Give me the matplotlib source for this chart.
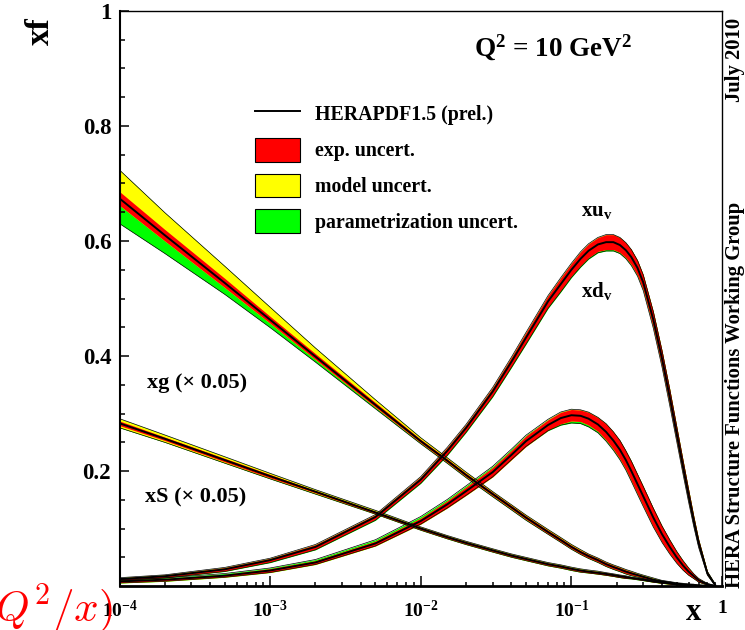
import numpy as np
import matplotlib.pyplot as plt
from matplotlib.lines import Line2D
from matplotlib.patches import Patch

plt.rcParams['font.family'] = ['Liberation Serif', 'DejaVu Serif']
plt.rcParams['font.weight'] = 'bold'
plt.rcParams['mathtext.fontset'] = 'custom'
plt.rcParams['mathtext.rm'] = 'Liberation Serif:bold'
plt.rcParams['mathtext.it'] = 'Liberation Serif:italic:bold'
plt.rcParams['mathtext.bf'] = 'Liberation Serif:bold'

# x points where the PDFs were read
x = [1e-4, 2e-4, 5e-4, 1e-3, 2e-3, 5e-3, 0.01, 0.015, 0.02, 0.03, 0.04, 0.05, 0.07,
     0.085, 0.1, 0.115, 0.13, 0.15, 0.17, 0.19, 0.21, 0.23, 0.25, 0.275, 0.3,
     0.35, 0.4, 0.45, 0.5, 0.55, 0.6, 0.65, 0.7, 0.8, 0.9]

# central values
xuv = [0.012, 0.017, 0.029, 0.045, 0.068, 0.120, 0.185, 0.235, 0.275, 0.338, 0.390, 0.432, 0.495,
       0.525, 0.550, 0.569, 0.583, 0.594, 0.598, 0.598, 0.593, 0.584, 0.572, 0.553, 0.528,
       0.463, 0.395, 0.328, 0.265, 0.208, 0.157, 0.112, 0.074, 0.022, 0.002]
xdv = [0.008, 0.011, 0.018, 0.027, 0.041, 0.074, 0.113, 0.142, 0.165, 0.198, 0.228, 0.252, 0.280,
       0.292, 0.297, 0.296, 0.291, 0.281, 0.268, 0.253, 0.237, 0.219, 0.200, 0.177, 0.156,
       0.119, 0.090, 0.068, 0.050, 0.036, 0.025, 0.017, 0.010, 0.003, 0.0]
xg = [0.674, 0.610, 0.527, 0.463, 0.399, 0.315, 0.252, 0.218, 0.193, 0.160, 0.137, 0.119, 0.094,
      0.080, 0.068, 0.059, 0.052, 0.045, 0.038, 0.033, 0.029, 0.025, 0.022, 0.019, 0.016,
      0.011, 0.008, 0.006, 0.004, 0.003, 0.002, 0.0015, 0.001, 0.0, 0.0]
xS = [0.283, 0.256, 0.219, 0.191, 0.164, 0.128, 0.100, 0.085, 0.075, 0.062, 0.053, 0.047, 0.038,
      0.034, 0.030, 0.027, 0.025, 0.023, 0.021, 0.019, 0.017, 0.0155, 0.014, 0.0125, 0.011,
      0.008, 0.006, 0.0045, 0.003, 0.002, 0.0015, 0.001, 0.0007, 0.0002, 0.0]

# uncertainties: exp (symmetric), model up/down, parametrisation up/down
xuv_exp = [0.002, 0.002, 0.003, 0.003, 0.004, 0.004, 0.005, 0.006, 0.006, 0.007, 0.008, 0.009, 0.010,
           0.011, 0.011, 0.012, 0.012, 0.012, 0.013, 0.013, 0.013, 0.013, 0.013, 0.013, 0.013,
           0.014, 0.014, 0.014, 0.013, 0.012, 0.011, 0.009, 0.007, 0.003, 0.001]
xuv_mup = [0.001] * 13 + [0.002] * 18 + [0.001] * 4
xuv_mdn = [0.001] * 35
xuv_pup = [0.001] * 35
xuv_pdn = [0.002, 0.002, 0.002, 0.003, 0.003, 0.004, 0.004, 0.005, 0.005, 0.006, 0.006, 0.007, 0.007,
           0.008, 0.008, 0.008, 0.008, 0.008, 0.008, 0.008, 0.007, 0.007, 0.007, 0.006, 0.006,
           0.005, 0.004, 0.004, 0.003, 0.003, 0.002, 0.002, 0.002, 0.001, 0.0]

xdv_exp = [0.002, 0.002, 0.002, 0.003, 0.003, 0.004, 0.005, 0.006, 0.007, 0.008, 0.008, 0.009, 0.009,
           0.010, 0.010, 0.010, 0.011, 0.012, 0.014, 0.015, 0.016, 0.016, 0.017, 0.017, 0.017,
           0.016, 0.014, 0.012, 0.010, 0.008, 0.006, 0.004, 0.003, 0.001, 0.0]
xdv_mup = [0.001] * 12 + [0.003] * 19 + [0.001] * 4
xdv_mdn = [0.002] * 12 + [0.001] * 23
xdv_pup = [0.002, 0.002, 0.003, 0.003, 0.004, 0.005, 0.006, 0.006, 0.006, 0.006, 0.006, 0.005, 0.003,
           0.002, 0.001] + [0.0] * 20
xdv_pdn = [0.0] * 12 + [0.004, 0.007, 0.009, 0.009, 0.009, 0.008, 0.008, 0.008, 0.007, 0.007, 0.006,
                        0.006, 0.005, 0.004, 0.003, 0.003, 0.002, 0.002, 0.001, 0.001, 0.001, 0.0, 0.0]

xg_exp = [0.012, 0.010, 0.008, 0.006, 0.005, 0.004, 0.003, 0.003, 0.003, 0.003, 0.003, 0.003, 0.003] \
    + [0.003] * 10 + [0.002] * 3 + [0.001] * 6 + [0.0] * 3
xg_mup = [0.048, 0.038, 0.028, 0.021, 0.014, 0.008, 0.005, 0.004, 0.004, 0.003, 0.003, 0.003, 0.003] \
    + [0.003] * 3 + [0.002] * 10 + [0.001] * 6 + [0.0] * 3
xg_mdn = [0.002] * 26 + [0.001] * 6 + [0.0] * 3
xg_pup = [0.001] * 32 + [0.0] * 3
xg_pdn = [0.042, 0.030, 0.018, 0.012, 0.008, 0.005, 0.003, 0.003, 0.003, 0.003, 0.003, 0.003, 0.002] \
    + [0.002] * 11 + [0.001] * 7 + [0.0] * 4

xS_exp = [0.004, 0.003, 0.003, 0.003, 0.002, 0.002, 0.002, 0.002, 0.002, 0.002, 0.002, 0.002, 0.002] \
    + [0.002] * 9 + [0.001] * 8 + [0.0] * 5
xS_mup = [0.007, 0.006, 0.005, 0.004, 0.003, 0.003, 0.002, 0.002, 0.002, 0.002, 0.002, 0.002, 0.002] \
    + [0.002] * 5 + [0.001] * 12 + [0.0] * 5
xS_mdn = [0.006, 0.005, 0.004, 0.003, 0.003, 0.002, 0.002, 0.002, 0.002, 0.002, 0.002, 0.002, 0.002] \
    + [0.002] * 3 + [0.001] * 12 + [0.0] * 7
xS_pup = [0.0] * 35
xS_pdn = [0.003, 0.002, 0.002, 0.002, 0.002, 0.001, 0.001, 0.001, 0.001, 0.001, 0.001, 0.001, 0.001] \
    + [0.001] * 12 + [0.0] * 10

pdfs = [
    (xg, xg_exp, xg_mup, xg_mdn, xg_pup, xg_pdn),
    (xS, xS_exp, xS_mup, xS_mdn, xS_pup, xS_pdn),
    (xdv, xdv_exp, xdv_mup, xdv_mdn, xdv_pup, xdv_pdn),
    (xuv, xuv_exp, xuv_mup, xuv_mdn, xuv_pup, xuv_pdn),
]

RED, YELLOW, GREEN = '#ff0000', '#ffff00', '#00ff00'

fig = plt.figure(figsize=(7.45, 6.3), dpi=100)
ax = fig.add_axes([119.5 / 745, 44 / 630, 602.5 / 745, 575 / 630])

xa = np.array(x)
for c, e, mu, md, pu, pd in pdfs:
    c, e, mu, md, pu, pd = map(np.array, (c, e, mu, md, pu, pd))
    y_hi = c + np.sqrt(e**2 + mu**2)
    y_lo = c - np.sqrt(e**2 + md**2)
    t_hi = c + np.sqrt(e**2 + mu**2 + pu**2)
    t_lo = c - np.sqrt(e**2 + md**2 + pd**2)
    ax.fill_between(xa, t_lo, t_hi, color=GREEN, lw=0)
    ax.fill_between(xa, y_lo, y_hi, color=YELLOW, lw=0)
    ax.fill_between(xa, c - e, c + e, color=RED, lw=0)
    ax.plot(xa, t_hi, color='black', lw=0.5)
    ax.plot(xa, t_lo, color='black', lw=0.5)
    ax.plot(xa, c, color='black', lw=1.4)

ax.set_xscale('log')
ax.set_xlim(1e-4, 1)
ax.set_ylim(0, 1)

ax.set_xticks([1e-4, 1e-3, 1e-2, 1e-1, 1])
ax.set_xticklabels([r'$10^{-4}$', r'$10^{-3}$', r'$10^{-2}$', r'$10^{-1}$', '1'])
ax.set_yticks([0.2, 0.4, 0.6, 0.8, 1.0])
ax.set_yticklabels(['0.2', '0.4', '0.6', '0.8', '1'])
ax.set_yticks(np.arange(0.05, 1.0, 0.05), minor=True)
ax.tick_params(axis='both', which='both', direction='in', top=False, right=False, width=1.1)
ax.tick_params(axis='x', which='major', length=7.5, pad=10, labelsize=14)
ax.tick_params(axis='x', which='minor', length=3.2)
ax.tick_params(axis='y', which='major', length=6.5, pad=6, labelsize=16.5)
ax.tick_params(axis='y', which='minor', length=3.3)
ax.spines['bottom'].set_linewidth(2.0)
ax.spines['left'].set_linewidth(1.5)
ax.spines['top'].set_linewidth(1.0)
ax.spines['right'].set_linewidth(1.0)

# axis titles at the corners
fig.text(40 / 745, 1 - 31 / 630, 'xf', rotation=90, fontsize=24, ha='center', va='center')
fig.text(693 / 745, 1 - 612 / 630, 'x', fontsize=22, ha='center', va='center')

fig.text(553 / 745, 1 - 48 / 630, r'Q$^{2}$ = 10 GeV$^{2}$', fontsize=19.5, ha='center', va='center')
fig.text(597 / 745, 1 - 211 / 630, r'xu$_{\mathrm{v}}$', fontsize=15, ha='center', va='center')
fig.text(597 / 745, 1 - 291 / 630, r'xd$_{\mathrm{v}}$', fontsize=15, ha='center', va='center')
fig.text(147 / 745, 1 - 383 / 630, 'xg (\u00d7 0.05)', fontsize=16, ha='left', va='center')
fig.text(145 / 745, 1 - 497 / 630, 'xS (\u00d7 0.05)', fontsize=16, ha='left', va='center')

fig.text(735 / 745, 1 - 395 / 630, 'HERA Structure Functions Working Group', rotation=90,
         fontsize=14.9, ha='center', va='center')
fig.text(735 / 745, 1 - 60 / 630, 'July 2010', rotation=90, fontsize=14.9, ha='center', va='center')

fig.text(113 / 745, 8 / 630, r'$\ln(Q^2/x)$', color='red', fontsize=31, ha='right',
         va='baseline', math_fontfamily='cm', fontweight='normal')

handles = [
    Line2D([], [], color='black', lw=1.4),
    Patch(facecolor=RED, edgecolor='black', lw=0.8),
    Patch(facecolor=YELLOW, edgecolor='black', lw=0.8),
    Patch(facecolor=GREEN, edgecolor='black', lw=0.8),
]
labels = ['HERAPDF1.5 (prel.)', 'exp. uncert.', 'model uncert.', 'parametrization uncert.']
ax.legend(handles, labels, loc='upper left', bbox_to_anchor=(255 / 745, 1 - 102 / 630),
          bbox_transform=fig.transFigure, frameon=False, fontsize=14.3, borderpad=0,
          borderaxespad=0, handlelength=2.27, handleheight=1.47, labelspacing=0.6,
          handletextpad=0.75)

fig.savefig('out.png', dpi=100)
